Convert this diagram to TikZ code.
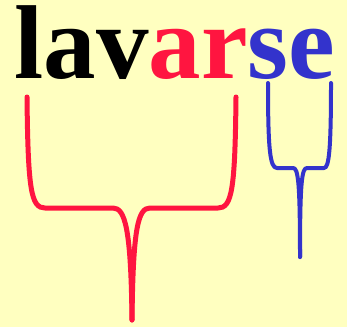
\documentclass[tikz,border=0pt]{standalone}
\usepackage{fontspec}
\setmainfont{Liberation Serif}
\definecolor{bg}{RGB}{255,255,192}
\definecolor{myred}{RGB}{255,21,64}
\definecolor{myblue}{RGB}{51,51,204}
\begin{document}
\begin{tikzpicture}[x=1pt,y=-1pt,
  redline/.style={draw=myred,line width=5pt,line cap=round,line join=round},
  blueline/.style={draw=myblue,line width=4pt,line cap=round,line join=round}]
\fill[bg] (0,0) rectangle (347,327);
\useasboundingbox (0,0) rectangle (347,327);
\node[anchor=base west,inner sep=0pt,text height=68pt,text depth=0pt] (word) at (14.5,78)
  {\fontsize{105}{108}\selectfont\bfseries lav\textcolor{myred}{ar}\textcolor{myblue}{se}};
% red bracket
\draw[redline] (27,97) .. controls (28,190) and (31,208) .. (45,208) -- (113,208)
  .. controls (125,208) and (131,228) .. (132,320);
\draw[redline] (236,97) .. controls (235,190) and (232,208) .. (218,208) -- (150,208)
  .. controls (138,208) and (133,228) .. (132,320);
% blue bracket
\draw[blueline] (268,83) .. controls (268,150) and (270,168) .. (277,168) -- (293,168)
  .. controls (298,168) and (300,180) .. (300,257);
\draw[blueline] (331,83) .. controls (331,150) and (329,168) .. (324,168) -- (307,168)
  .. controls (302,168) and (300,180) .. (300,257);
\end{tikzpicture}
\end{document}
